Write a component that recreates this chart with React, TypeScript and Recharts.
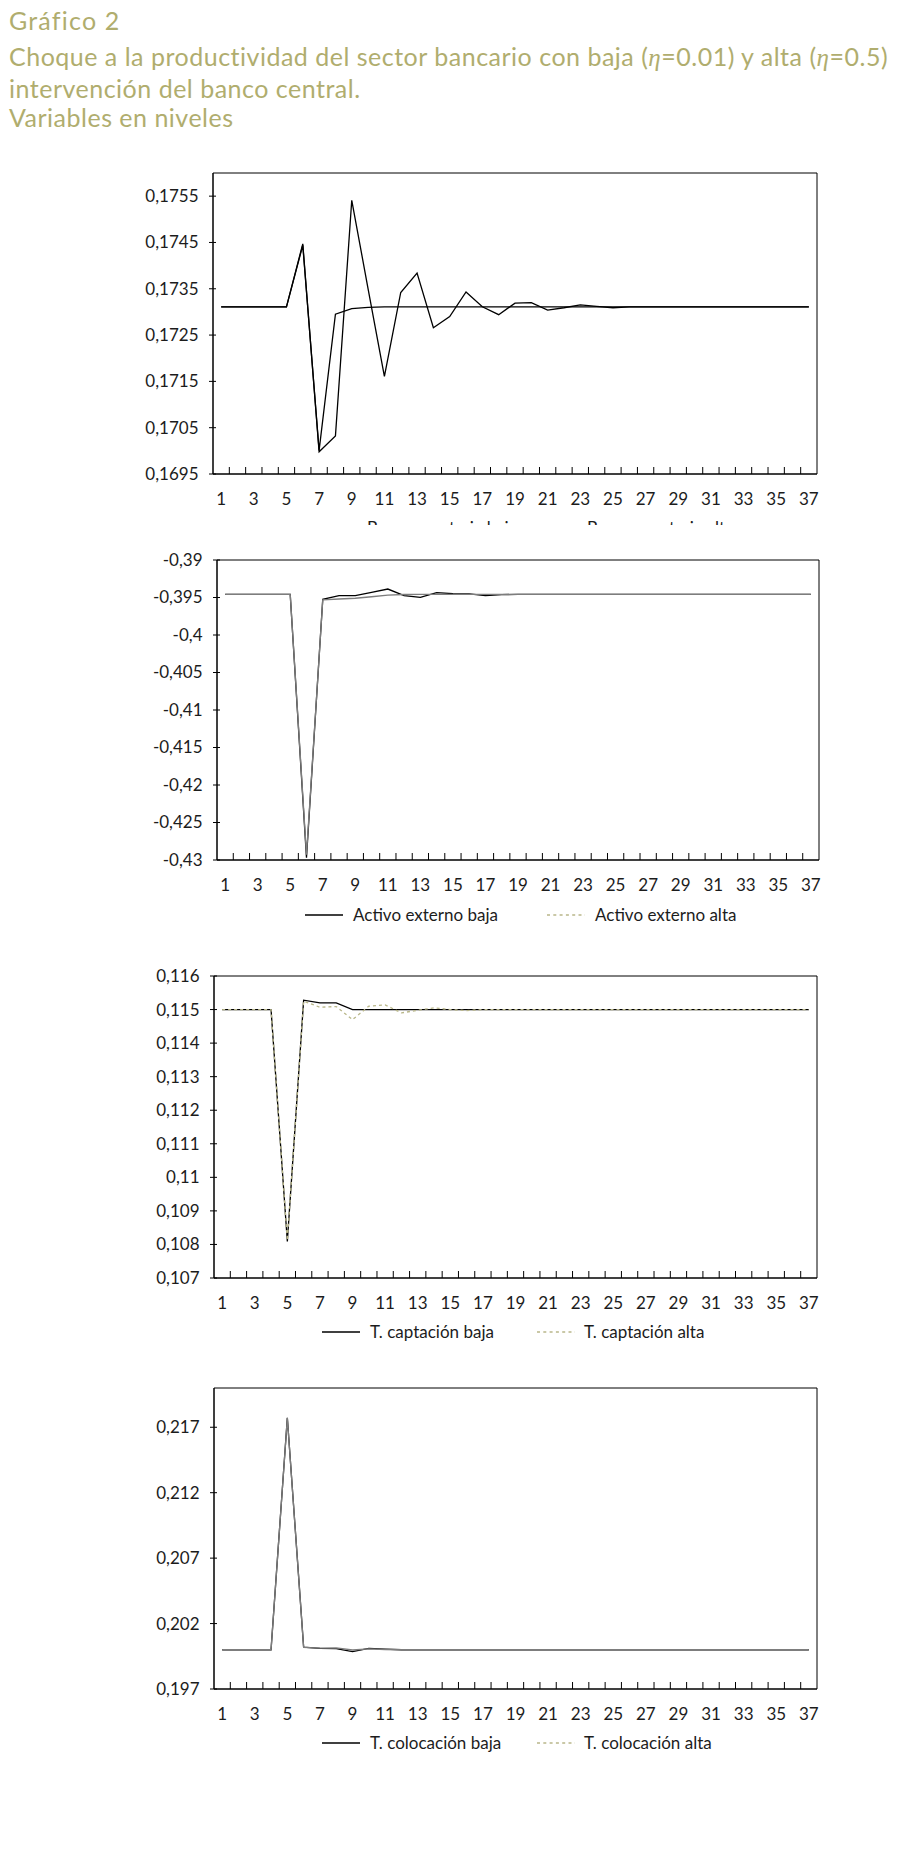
import React from 'react';
import { LineChart, Line, XAxis, YAxis, ReferenceArea } from 'recharts';

// periods 1..37
const PERIODS = [
  1, 2, 3, 4, 5, 6, 7, 8, 9, 10, 11, 12, 13, 14, 15, 16, 17, 18, 19, 20,
  21, 22, 23, 24, 25, 26, 27, 28, 29, 30, 31, 32, 33, 34, 35, 36, 37,
];
const X_LABELS = [1, 3, 5, 7, 9, 11, 13, 15, 17, 19, 21, 23, 25, 27, 29, 31, 33, 35, 37];
// small tick marks sit between categories
const X_MARKS = [
  1.5, 2.5, 3.5, 4.5, 5.5, 6.5, 7.5, 8.5, 9.5, 10.5, 11.5, 12.5, 13.5, 14.5, 15.5, 16.5, 17.5, 18.5,
  19.5, 20.5, 21.5, 22.5, 23.5, 24.5, 25.5, 26.5, 27.5, 28.5, 29.5, 30.5, 31.5, 32.5, 33.5, 34.5, 35.5, 36.5,
];
const X_TICKS = [...X_LABELS, ...X_MARKS].sort((a, b) => a - b);

const TITLE_1 = 'Gráfico 2';
const TITLE_3 = 'intervención del banco central.';
const TITLE_4 = 'Variables en niveles';

// panel 1: base monetaria
const baseBaja = [
  0.17311, 0.17311, 0.17311, 0.17311, 0.17311, 0.17447, 0.16998, 0.17032, 0.17541, 0.1735,
  0.17161, 0.17342, 0.17384, 0.17266, 0.1729, 0.17343, 0.17311, 0.17294, 0.17319, 0.1732,
  0.17304, 0.17309, 0.17315, 0.17312, 0.17309, 0.17311, 0.17311, 0.17311, 0.17311, 0.17311,
  0.17311, 0.17311, 0.17311, 0.17311, 0.17311, 0.17311, 0.17311,
];
const baseAlta = [
  0.17311, 0.17311, 0.17311, 0.17311, 0.17311, 0.17444, 0.17001, 0.17295, 0.17307, 0.1731,
  0.17311, 0.17311, 0.17311, 0.17311, 0.17311, 0.17311, 0.17311, 0.17311, 0.17311, 0.17311,
  0.17311, 0.17311, 0.17311, 0.17311, 0.17311, 0.17311, 0.17311, 0.17311, 0.17311, 0.17311,
  0.17311, 0.17311, 0.17311, 0.17311, 0.17311, 0.17311, 0.17311,
];
const baseTicks = [0.1695, 0.1705, 0.1715, 0.1725, 0.1735, 0.1745, 0.1755];

// panel 2: activo externo
const activoBaja = [
  -0.39458, -0.39458, -0.39458, -0.39458, -0.39458, -0.4297, -0.39524, -0.39476, -0.39476, -0.39432,
  -0.39387, -0.39476, -0.39497, -0.39436, -0.39448, -0.39452, -0.39476, -0.39462, -0.39458, -0.39458,
  -0.39458, -0.39458, -0.39458, -0.39458, -0.39458, -0.39458, -0.39458, -0.39458, -0.39458, -0.39458,
  -0.39458, -0.39458, -0.39458, -0.39458, -0.39458, -0.39458, -0.39458,
];
const activoAlta = [
  -0.39458, -0.39458, -0.39458, -0.39458, -0.39458, -0.4293, -0.39533, -0.3952, -0.3951, -0.3949,
  -0.39467, -0.3946, -0.39458, -0.39458, -0.39458, -0.39458, -0.39458, -0.39458, -0.39458, -0.39458,
  -0.39458, -0.39458, -0.39458, -0.39458, -0.39458, -0.39458, -0.39458, -0.39458, -0.39458, -0.39458,
  -0.39458, -0.39458, -0.39458, -0.39458, -0.39458, -0.39458, -0.39458,
];
const activoTicks = [-0.43, -0.425, -0.42, -0.415, -0.41, -0.405, -0.4, -0.395, -0.39];

// panel 3: tasa de captación
const captBaja = [
  0.115, 0.115, 0.115, 0.115, 0.10809, 0.11528, 0.1152, 0.1152, 0.115, 0.115,
  0.115, 0.115, 0.115, 0.115, 0.115, 0.115, 0.115, 0.115, 0.115, 0.115,
  0.115, 0.115, 0.115, 0.115, 0.115, 0.115, 0.115, 0.115, 0.115, 0.115,
  0.115, 0.115, 0.115, 0.115, 0.115, 0.115, 0.115,
];
const captAlta = [
  0.115, 0.115, 0.115, 0.115, 0.10812, 0.11525, 0.11507, 0.11509, 0.1147, 0.1151,
  0.11514, 0.1149, 0.11498, 0.11505, 0.115, 0.11497, 0.115, 0.115, 0.115, 0.115,
  0.115, 0.115, 0.115, 0.115, 0.115, 0.115, 0.115, 0.115, 0.115, 0.115,
  0.115, 0.115, 0.115, 0.115, 0.115, 0.115, 0.115,
];
const captTicks = [0.107, 0.108, 0.109, 0.11, 0.111, 0.112, 0.113, 0.114, 0.115, 0.116];

// panel 4: tasa de colocación
const colocBaja = [
  0.2, 0.2, 0.2, 0.2, 0.21773, 0.2002, 0.2001, 0.20008, 0.19985, 0.2001,
  0.20005, 0.2, 0.2, 0.2, 0.2, 0.2, 0.2, 0.2, 0.2, 0.2,
  0.2, 0.2, 0.2, 0.2, 0.2, 0.2, 0.2, 0.2, 0.2, 0.2,
  0.2, 0.2, 0.2, 0.2, 0.2, 0.2, 0.2,
];
const colocAlta = [
  0.2, 0.2, 0.2, 0.2, 0.2177, 0.20018, 0.20012, 0.20014, 0.19998, 0.20006,
  0.20002, 0.2, 0.2, 0.2, 0.2, 0.2, 0.2, 0.2, 0.2, 0.2,
  0.2, 0.2, 0.2, 0.2, 0.2, 0.2, 0.2, 0.2, 0.2, 0.2,
  0.2, 0.2, 0.2, 0.2, 0.2, 0.2, 0.2,
];
const colocTicks = [0.197, 0.202, 0.207, 0.212, 0.217];

const OLIVE = '#b0ad6e';
const DASH_OLIVE = '#b9b78a';
const INK = '#1c1c1c';
const FONT = 'Lato, "Open Sans", sans-serif';

const fmt = (v: number) => String(v).replace('.', ',');

const YTick = (props: any) => {
  const { x, y, payload } = props;
  return (
    <g>
      <line x1={x - 4} x2={x + 3} y1={y} y2={y} stroke="#000" strokeWidth={1} />
      <text x={x - 14.5} y={y} dy="0.35em" textAnchor="end" fill={INK} fontSize={17} fontFamily={FONT}>
        {fmt(payload.value)}
      </text>
    </g>
  );
};

// integers get a label, half-steps get a short inward mark
const XTick = (props: any) => {
  const { x, y, payload } = props;
  if (!Number.isInteger(payload.value)) {
    return <line x1={x} x2={x} y1={y} y2={y - 7} stroke="#000" strokeWidth={1} />;
  }
  return (
    <text x={x} y={y + 25} dy="0.35em" textAnchor="middle" fill={INK} fontSize={17} fontFamily={FONT}>
      {payload.value}
    </text>
  );
};

type LegendItem = { sample: number; text: number; label: string; dashed: boolean };

type PanelProps = {
  left: number;
  right: number;
  top: number;
  bottom: number;
  domain: [number, number];
  ticks: number[];
  baja: number[];
  alta: number[];
  altaColor: string;
  altaDash?: string;
  legend: LegendItem[];
  legendY: number;
  clipAt?: number;
};

const Legend = ({ items, y }: { items: LegendItem[]; y: number }) => (
  <div style={{ position: 'absolute', left: 0, top: y - 12, width: 914, height: 24 }}>
    {items.map((it) => (
      <React.Fragment key={it.label}>
        <svg width={40} height={24} style={{ position: 'absolute', left: it.sample, top: 0 }}>
          <line
            x1={0}
            x2={38}
            y1={12}
            y2={12}
            stroke={it.dashed ? DASH_OLIVE : '#000'}
            strokeWidth={it.dashed ? 1.3 : 1.4}
            strokeDasharray={it.dashed ? '3 3.3' : undefined}
          />
        </svg>
        <span
          style={{
            position: 'absolute',
            left: it.text,
            top: 0,
            lineHeight: '24px',
            fontSize: 17,
            fontFamily: FONT,
            color: INK,
            whiteSpace: 'nowrap',
          }}
        >
          {it.label}
        </span>
      </React.Fragment>
    ))}
  </div>
);

const Panel = (p: PanelProps) => {
  const rows = PERIODS.map((t, i) => ({ t, baja: p.baja[i], alta: p.alta[i] }));
  const legend = <Legend items={p.legend} y={p.legendY} />;
  return (
    <>
      <div style={{ position: 'absolute', left: 0, top: p.top - 20 }}>
        <LineChart
          width={914}
          height={p.bottom - p.top + 70}
          data={rows}
          margin={{ top: 20, right: 914 - p.right, bottom: 0, left: 0 }}
        >
          <XAxis
            xAxisId="lab"
            type="number"
            dataKey="t"
            domain={[0.5, 37.5]}
            ticks={X_TICKS}
            interval={0}
            height={50}
            tickSize={0}
            tickMargin={0}
            tickLine={false}
            axisLine={{ stroke: '#000' }}
            tick={<XTick />}
          />
          <YAxis
            yAxisId="v"
            type="number"
            domain={p.domain}
            ticks={p.ticks}
            interval={0}
            allowDataOverflow
            width={p.left}
            tickSize={0}
            tickMargin={0}
            tickLine={false}
            axisLine={{ stroke: '#000' }}
            tick={<YTick />}
          />
          <ReferenceArea
            xAxisId="lab"
            yAxisId="v"
            x1={0.5}
            x2={37.5}
            y1={p.domain[0]}
            y2={p.domain[1]}
            fill="none"
            fillOpacity={0}
            stroke="#000"
            strokeWidth={1}
          />
          <Line
            xAxisId="lab"
            yAxisId="v"
            type="linear"
            dataKey="baja"
            stroke="#000"
            strokeWidth={1.3}
            dot={false}
            isAnimationActive={false}
          />
          <Line
            xAxisId="lab"
            yAxisId="v"
            type="linear"
            dataKey="alta"
            stroke={p.altaColor}
            strokeWidth={1.3}
            strokeDasharray={p.altaDash}
            dot={false}
            isAnimationActive={false}
          />
        </LineChart>
      </div>
      {p.clipAt ? (
        <div style={{ position: 'absolute', left: 0, top: 0, width: 914, height: p.clipAt, overflow: 'hidden' }}>
          {legend}
        </div>
      ) : (
        legend
      )}
    </>
  );
};

const Eta = () => (
  <tspan fontStyle="italic" fontFamily='"Liberation Serif", "DejaVu Serif", serif'>
    η
  </tspan>
);

export default function App() {
  return (
    <div style={{ position: 'absolute', left: 0, top: 0, width: 914, height: 1850, background: '#fff' }}>
      <svg width={914} height={140} style={{ position: 'absolute', left: 0, top: 0 }}>
        <g fill={OLIVE} fontFamily={FONT} fontSize={25} letterSpacing={0.5}>
          <text x={9} y={30} letterSpacing={1.2}>{TITLE_1}</text>
          <text x={9} y={66}>
            Choque a la productividad del sector bancario con baja (<Eta />=0.01) y alta (<Eta />=0.5)
          </text>
          <text x={9} y={98}>{TITLE_3}</text>
          <text x={9} y={127}>{TITLE_4}</text>
        </g>
      </svg>

      <Panel
        left={213}
        right={817}
        top={173}
        bottom={474}
        domain={[0.1695, 0.176]}
        ticks={baseTicks}
        baja={baseBaja}
        alta={baseAlta}
        altaColor="#000"
        legend={[
          { sample: 319, text: 367, label: 'Base monetaria baja', dashed: false },
          { sample: 539, text: 587, label: 'Base monetaria alta', dashed: true },
        ]}
        legendY={528}
        clipAt={525}
      />

      <Panel
        left={217}
        right={819}
        top={560}
        bottom={860}
        domain={[-0.43, -0.39]}
        ticks={activoTicks}
        baja={activoBaja}
        alta={activoAlta}
        altaColor="#7d7d7d"
        legend={[
          { sample: 305, text: 353, label: 'Activo externo baja', dashed: false },
          { sample: 547, text: 595, label: 'Activo externo alta', dashed: true },
        ]}
        legendY={915}
      />

      <Panel
        left={214}
        right={817}
        top={976}
        bottom={1278}
        domain={[0.107, 0.116]}
        ticks={captTicks}
        baja={captBaja}
        alta={captAlta}
        altaColor={DASH_OLIVE}
        altaDash="3 3"
        legend={[
          { sample: 322, text: 370, label: 'T. captación baja', dashed: false },
          { sample: 537, text: 584, label: 'T. captación alta', dashed: true },
        ]}
        legendY={1332}
      />

      <Panel
        left={214}
        right={817}
        top={1388}
        bottom={1689}
        domain={[0.197, 0.22]}
        ticks={colocTicks}
        baja={colocBaja}
        alta={colocAlta}
        altaColor="#7d7d7d"
        legend={[
          { sample: 322, text: 370, label: 'T. colocación baja', dashed: false },
          { sample: 537, text: 584, label: 'T. colocación alta', dashed: true },
        ]}
        legendY={1743}
      />
    </div>
  );
}
